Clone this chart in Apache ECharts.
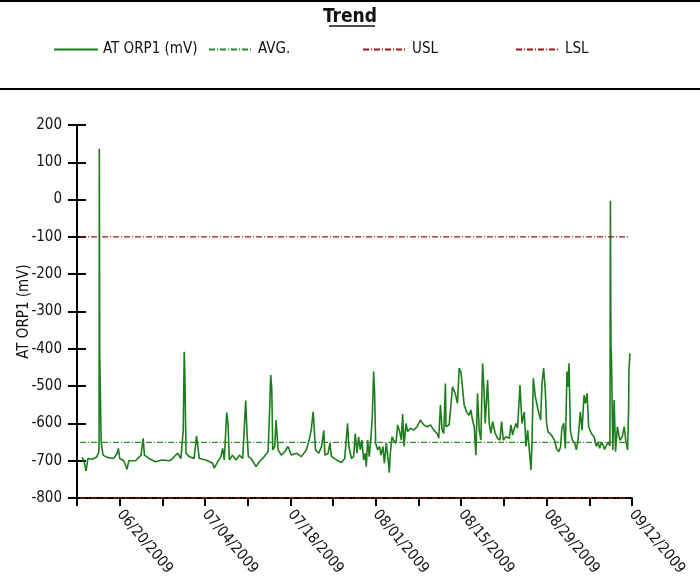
<!DOCTYPE html>
<html>
<head>
    <meta charset="UTF-8">
    <title>Trend</title>
    <style>
        html, body {
            margin: 0;
            height: 100%;
            background-color: #FFF;
        }
    </style>
</head>
<body>
<div id="main" style="width:700px;height:588px"></div>

<script src="https://cdn.jsdelivr.net/npm/echarts@6/dist/echarts.min.js"></script>
<script type="text/javascript">
    var FONT = '"Liberation Sans Narrow", "DejaVu Sans Condensed", "Liberation Sans", sans-serif';

    // x axis: days since 06/13/2009, one tick a week, label every 2 weeks
    var xTickLabels = ['', '06/20/2009', '', '07/04/2009', '', '07/18/2009', '', '08/01/2009',
        '', '08/15/2009', '', '08/29/2009', '', '09/12/2009'];

    // readings: day offset / value (mV)
    var dayOffsets = [0.82, 1.1, 1.48, 1.8, 2.46, 3.18, 3.56, 3.62, 3.66, 3.72, 3.8, 3.96, 4.27, 4.93,
        6.02, 6.57, 6.79, 7.0, 7.67, 8.2, 8.5, 9.6, 10.5, 10.84, 11.06, 11.8, 12.87, 13.96, 15.06, 15.6,
        15.94, 16.5, 17.04, 17.42, 17.58, 17.68, 17.8, 17.88, 18.4, 19.2, 19.6, 19.83, 20.05, 21.14,
        22.24, 22.5, 23.06, 23.6, 23.88, 24.15, 24.54, 24.76, 24.98, 25.5, 26.07, 26.62, 27.17, 27.66,
        27.88, 28.1, 28.54, 29.36, 29.9, 30.7, 31.33, 31.6, 31.76, 31.93, 32.1, 32.42, 32.64, 32.8,
        32.97, 33.5, 34.06, 34.6, 35.16, 35.98, 36.8, 37.6, 38.06, 38.4, 38.72, 38.88, 39.1, 39.65,
        40.09, 40.47, 40.64, 41.18, 41.46, 41.73, 42.55, 43.37, 43.9, 44.36, 44.58, 45.0, 45.35, 45.62,
        45.9, 46.17, 46.45, 46.72, 47.0, 47.27, 47.43, 47.65, 47.92, 48.2, 48.42, 48.64, 48.8, 48.97,
        49.3, 49.62, 49.84, 50.17, 50.39, 50.72, 51.05, 51.21, 51.37, 51.65, 51.92, 52.3, 52.58, 52.9,
        53.18, 53.4, 53.62, 53.95, 54.22, 54.66, 55.2, 55.76, 56.3, 56.85, 57.4, 57.95, 58.5, 59.04,
        59.31, 59.59, 59.86, 60.14, 60.41, 60.5, 61.02, 61.29, 61.57, 62.0, 62.39, 62.66, 62.94, 63.2,
        63.48, 63.87, 64.3, 64.58, 64.85, 65.13, 65.4, 65.67, 65.95, 66.22, 66.5, 66.71, 66.93, 67.32,
        67.59, 67.86, 68.14, 68.58, 68.96, 69.34, 69.62, 69.89, 70.33, 70.88, 71.15, 71.42, 71.7,
        71.97, 72.24, 72.63, 72.96, 73.34, 73.61, 73.89, 74.16, 74.44, 74.6, 74.82, 75.15, 75.55,
        76.02, 76.24, 76.51, 76.78, 77.0, 77.22, 77.77, 78.3, 78.6, 79.0, 79.3, 79.5, 79.8, 80.07,
        80.34, 80.5, 80.67, 80.89, 81.22, 81.6, 81.88, 82.15, 82.53, 82.81, 83.14, 83.36, 83.63, 83.9,
        84.34, 84.78, 85.16, 85.4, 85.7, 85.95, 86.26, 86.5, 86.8, 87.05, 87.24, 87.38, 87.46, 87.55,
        87.63, 87.85, 88.07, 88.3, 88.6, 89.0, 89.4, 89.73, 90.0, 90.28, 90.45, 90.5, 90.66];
    var orpValues = [-691, -698, -727, -694, -696, -691, -678, -660, 136, -405, -410, -650, -685, -691,
        -694, -680, -667, -694, -700, -723, -700, -700, -685, -640, -685, -694, -703, -698, -700, -696,
        -689, -680, -694, -618, -408, -466, -470, -680, -689, -694, -634, -637, -694, -698,
        -707, -720, -703, -689, -667, -698, -571, -600, -698, -685, -698, -685, -694, -539,
        -627, -689, -694, -716, -703, -689, -676, -555, -470, -506, -671, -662, -591, -586,
        -671, -685, -676, -662, -685, -680, -689, -671, -645, -618, -569, -609, -671, -680,
        -662, -619, -685, -680, -653, -689, -698, -705, -694, -600, -662, -694, -689, -627,
        -680, -636, -671, -645, -698, -680, -716, -645, -689, -636, -582, -461, -519, -653,
        -671, -662, -685, -662, -707, -653, -703, -732, -680, -636, -645, -653, -604, -622,
        -645, -575, -662, -600, -622, -613, -618, -609, -591, -604, -609, -604, -618, -627,
        -640, -551, -618, -627, -493, -609, -604, -555, -502, -519, -546, -452, -461, -502,
        -551, -569, -578, -564, -591, -609, -685, -519, -618, -645, -439, -502, -600, -484,
        -600, -627, -595, -627, -640, -645, -595, -645, -636, -640, -604, -631, -613,
        -600, -613, -497, -600, -569, -662, -618, -671, -725, -653, -479, -528, -560,
        -591, -493, -452, -510, -600, -622, -631, -645, -667, -676, -662, -613, -600, -667,
        -461, -502, -439, -618, -645, -653, -671, -645, -569, -618, -524, -546, -519, -609,
        -627, -636, -662, -650, -667, -652, -658, -670, -667, -650, -653, -660, -3, -395,
        -421, -671, -537, -676, -609, -645, -636, -609, -649, -671, -560, -457, -412];

    var avgValue = -651;
    var uslValue = -100;
    var lslValue = -800;
    var limitDays = [0.5, 90.6];

    var orpData = dayOffsets.map(function (d, i) {
        return [d, orpValues[i]];
    });

    function flatLine(v) {
        return limitDays.map(function (d) {
            return [d, v];
        });
    }

    var legendText = {fontSize: 15, fontFamily: FONT, color: '#111'};

    function makeLegend(name, left) {
        return {
            data: [name],
            left: left,
            top: 37,
            itemWidth: 44,
            itemHeight: 12,
            itemGap: 4,
            selectedMode: false,
            itemStyle: {opacity: 0},
            textStyle: legendText
        };
    }

    var mOptions = {
        animation: false,
        backgroundColor: '#fff',

        graphic: [
            {type: 'line', shape: {x1: 0, y1: 1, x2: 700, y2: 1}, style: {stroke: '#000', lineWidth: 2}},
            {type: 'line', shape: {x1: 0, y1: 89, x2: 700, y2: 89}, style: {stroke: '#000', lineWidth: 2}},
            {
                type: 'text', left: 'center', top: 8,
                style: {text: 'Trend', font: 'bold 19px ' + FONT, fill: '#111'}
            },
            {type: 'line', shape: {x1: 329, y1: 26, x2: 375, y2: 26}, style: {stroke: '#111', lineWidth: 1.5}}
        ],

        legend: [
            makeLegend('AT ORP1 (mV)', 48),
            makeLegend('AVG.', 203),
            makeLegend('USL', 357),
            makeLegend('LSL', 510)
        ],

        grid: {
            left: 77,
            right: 68,
            top: 125,
            bottom: 90,
            outerBoundsMode: 'none'
        },

        xAxis: {
            type: 'value',
            min: 0,
            max: 91,
            interval: 7,
            axisLine: {show: true, onZero: false, lineStyle: {color: '#000', width: 2}},
            axisTick: {show: true, length: 8, lineStyle: {color: '#000', width: 2}},
            splitLine: {show: false},
            axisLabel: {
                rotate: -50,
                margin: 14,
                fontSize: 15,
                fontFamily: FONT,
                color: '#111',
                showMinLabel: true,
                showMaxLabel: true,
                formatter: function (v) {
                    return xTickLabels[Math.round(v / 7)] || '';
                }
            }
        },

        yAxis: [{
            type: 'value',
            min: -800,
            max: 200,
            interval: 100,
            name: 'AT ORP1 (mV)',
            nameLocation: 'middle',
            nameGap: 45,
            nameMoveOverlap: false,
            nameTextStyle: {fontSize: 15, fontFamily: FONT, color: '#111'},
            axisLine: {show: true, lineStyle: {color: '#000', width: 2}},
            axisTick: {show: true, length: 9, lineStyle: {color: '#000', width: 2}},
            axisLabel: {margin: 15, fontSize: 15, fontFamily: FONT, color: '#111'},
            splitLine: {show: false}
        }, {
            type: 'value',
            min: -800,
            max: 200,
            interval: 100,
            position: 'left',
            offset: 0,
            axisLine: {show: false},
            axisTick: {show: true, inside: true, length: 9, lineStyle: {color: '#000', width: 2}},
            axisLabel: {show: false},
            splitLine: {show: false}
        }],

        series: [{
            name: 'AT ORP1 (mV)',
            type: 'line',
            symbol: 'none',
            color: '#1b7d1b',
            lineStyle: {width: 1.6, color: '#1b7d1b'},
            data: orpData,
            z: 3
        }, {
            name: 'AVG.',
            type: 'line',
            symbol: 'none',
            color: '#2a8a2a',
            lineStyle: {width: 1.2, type: [6, 2, 1, 2], color: '#2a8a2a'},
            data: flatLine(avgValue),
            z: 4
        }, {
            name: 'USL',
            type: 'line',
            symbol: 'none',
            color: '#931717',
            lineStyle: {width: 1.3, type: [6, 2, 1, 2], color: '#931717'},
            data: flatLine(uslValue),
            z: 4
        }, {
            name: 'LSL',
            type: 'line',
            symbol: 'none',
            color: '#931717',
            lineStyle: {width: 1.5, type: [6, 2, 1, 2], color: '#931717'},
            data: flatLine(lslValue),
            z: 4
        }]
    };

    var mCharts = echarts.init(document.getElementById('main'));
    mCharts.setOption(mOptions);
</script>
</body>
</html>
